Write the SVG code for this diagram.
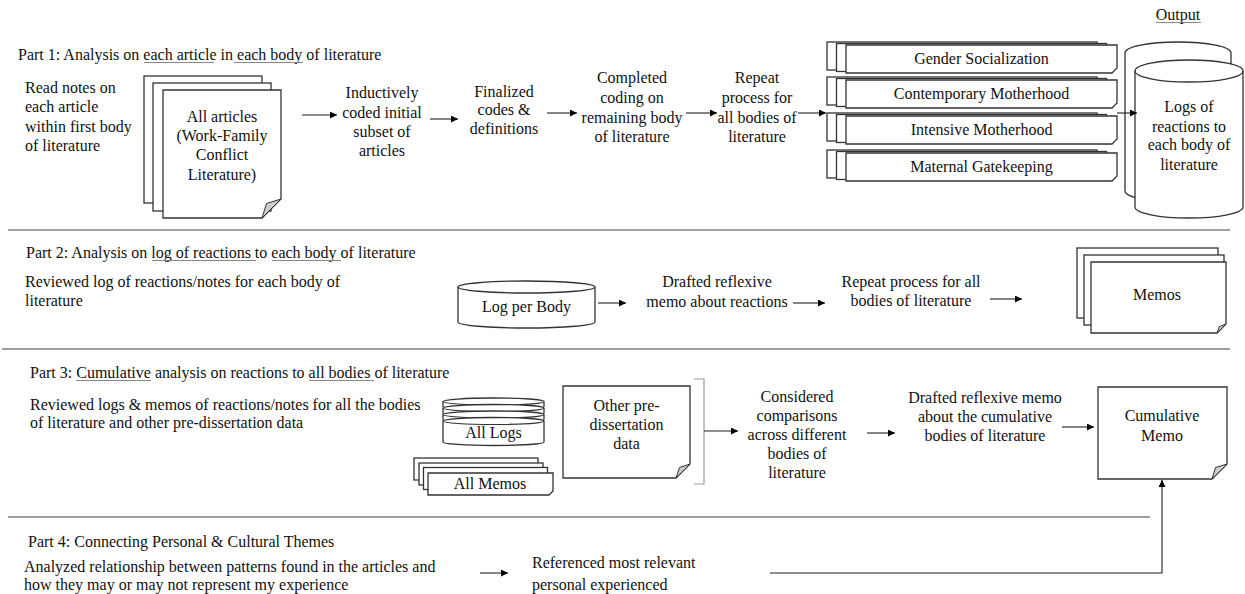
<svg xmlns="http://www.w3.org/2000/svg" width="1245" height="594" viewBox="0 0 1245 594">
<defs>
<style>
text{font-family:"Liberation Serif","Times New Roman",serif;font-size:16px;fill:#111}
.c{text-anchor:middle}
.sep{stroke:#a0a0a0;stroke-width:2;fill:none}
.ul{stroke:#888;stroke-width:1.2;fill:none}
.shape{fill:#fff;stroke:#333;stroke-width:1.3}
.fold{fill:#ccc;stroke:#333;stroke-width:1}
.conn{stroke:#222;stroke-width:1.1;fill:none;marker-end:url(#ah)}
.brk{stroke:#999;stroke-width:1.2;fill:none}
</style>
<marker id="ah" viewBox="0 0 10 10" refX="10" refY="5" markerWidth="9" markerHeight="7" orient="auto" markerUnits="userSpaceOnUse"><path d="M0,0 L10,5 L0,10 z" fill="#000"/></marker>
</defs>
<rect width="1245" height="594" fill="#fff"/>

<g id="separators">
<line class="sep" x1="8" y1="230" x2="1230" y2="230"/>
<line class="sep" x1="2" y1="349" x2="1230" y2="349"/>
<line class="sep" x1="8" y1="517" x2="1150" y2="517"/>
</g>

<g id="part1-title">
<text x="18" y="60">Part 1: Analysis on each article in each body of literature</text>
<line class="ul" x1="144" y1="62.5" x2="214" y2="62.5"/>
<line class="ul" x1="234" y1="62.5" x2="303" y2="62.5"/>
</g>
<g id="output-label">
<text class="c" x="1178" y="20">Output</text>
<line class="ul" x1="1156" y1="22.5" x2="1201" y2="22.5"/>
</g>
<g id="read-notes">
<text x="25" y="93">Read notes on</text>
<text x="25" y="112">each article</text>
<text x="25" y="132">within first body</text>
<text x="25" y="151">of literature</text>
</g>
<g id="all-articles">
<rect class="shape" x="144" y="76" width="118" height="127"/>
<rect class="shape" x="153" y="83" width="118" height="128"/>
<path class="shape" d="M163,90 H281 V199 L262,218 H163 Z"/>
<path class="fold" d="M281,199 L262,218 L266.5,203.5 Z"/>
<text class="c" x="222" y="122">All articles</text>
<text class="c" x="222" y="141">(Work-Family</text>
<text class="c" x="222" y="160">Conflict</text>
<text class="c" x="222" y="180">Literature)</text>
</g>
<g id="inductively">
<text class="c" x="382" y="98">Inductively</text>
<text class="c" x="382" y="118">coded initial</text>
<text class="c" x="382" y="137">subset of</text>
<text class="c" x="382" y="156">articles</text>
</g>
<g id="finalized">
<text class="c" x="504" y="97">Finalized</text>
<text class="c" x="504" y="115">codes &amp;</text>
<text class="c" x="504" y="134">definitions</text>
</g>
<g id="completed">
<text class="c" x="632" y="83">Completed</text>
<text class="c" x="632" y="103">coding on</text>
<text class="c" x="632" y="123">remaining body</text>
<text class="c" x="632" y="142">of literature</text>
</g>
<g id="repeat1">
<text class="c" x="757" y="83">Repeat</text>
<text class="c" x="757" y="103">process for</text>
<text class="c" x="757" y="123">all bodies of</text>
<text class="c" x="757" y="142">literature</text>
</g>
<g id="gender-socialization">
<rect class="shape" x="827" y="42" width="270" height="28"/>
<rect class="shape" x="836.5" y="43.5" width="270" height="28"/>
<path class="shape" d="M846,45 H1117 V68 L1112,73 H846 Z"/>
<text class="c" x="981.5" y="64">Gender Socialization</text>
</g>
<g id="contemporary-motherhood">
<rect class="shape" x="827" y="77" width="270" height="28"/>
<rect class="shape" x="836.5" y="78.5" width="270" height="28"/>
<path class="shape" d="M846,80 H1117 V103 L1112,108 H846 Z"/>
<text class="c" x="981.5" y="99">Contemporary Motherhood</text>
</g>
<g id="intensive-motherhood">
<rect class="shape" x="827" y="113" width="270" height="28"/>
<rect class="shape" x="836.5" y="114.5" width="270" height="28"/>
<path class="shape" d="M846,116 H1117 V139 L1112,144 H846 Z"/>
<text class="c" x="981.5" y="135">Intensive Motherhood</text>
</g>
<g id="maternal-gatekeeping">
<rect class="shape" x="827" y="150" width="270" height="28"/>
<rect class="shape" x="836.5" y="151.5" width="270" height="28"/>
<path class="shape" d="M846,153 H1117 V176 L1112,181 H846 Z"/>
<text class="c" x="981.5" y="172">Maternal Gatekeeping</text>
</g>
<g id="logs-of-reactions">
<path class="shape" d="M1125,53 A53,11 0 0 1 1231,53 V191 A53,11 0 0 1 1125,191 Z"/>
<path class="shape" d="M1135,71 A54,11 0 0 1 1243,71 V207 A54,11 0 0 1 1135,207 Z"/>
<path fill="none" stroke="#333" stroke-width="1.3" d="M1135,71 A54,11 0 0 0 1243,71"/>
<text class="c" x="1189" y="112">Logs of</text>
<text class="c" x="1189" y="132">reactions to</text>
<text class="c" x="1189" y="150">each body of</text>
<text class="c" x="1189" y="170">literature</text>
</g>

<g id="part2-title">
<text x="26" y="258">Part 2: Analysis on log of reactions to each body of literature</text>
<line class="ul" x1="152" y1="260.5" x2="256" y2="260.5"/>
<line class="ul" x1="272" y1="260.5" x2="341" y2="260.5"/>
</g>
<g id="reviewed-log">
<text x="25" y="287">Reviewed log of reactions/notes for each body of</text>
<text x="25" y="306">literature</text>
</g>
<g id="log-per-body">
<path class="shape" d="M458,287 A68.5,6 0 0 1 595,287 V322 A68.5,6 0 0 1 458,322 Z"/>
<path fill="none" stroke="#333" stroke-width="1.3" d="M458,287 A68.5,6 0 0 0 595,287"/>
<text class="c" x="526.5" y="312">Log per Body</text>
</g>
<g id="drafted-memo">
<text class="c" x="717" y="287">Drafted reflexive</text>
<text class="c" x="717" y="307">memo about reactions</text>
</g>
<g id="repeat2">
<text class="c" x="911" y="287">Repeat process for all</text>
<text class="c" x="911" y="306">bodies of literature</text>
</g>
<g id="memos">
<rect class="shape" x="1077" y="248" width="141" height="70"/>
<rect class="shape" x="1084" y="255" width="140" height="70"/>
<path class="shape" d="M1091,262 H1226 V324 L1217,333 H1091 Z"/>
<path class="fold" d="M1226,324 L1217,333 L1219.5,326.5 Z"/>
<text class="c" x="1157" y="300">Memos</text>
</g>

<g id="part3-title">
<text x="30" y="378">Part 3: Cumulative analysis on reactions to all bodies of literature</text>
<line class="ul" x1="76" y1="380.5" x2="151" y2="380.5"/>
<line class="ul" x1="309" y1="380.5" x2="374" y2="380.5"/>
</g>
<g id="reviewed-logs-memos">
<text x="30" y="410">Reviewed logs &amp; memos of reactions/notes for all the bodies</text>
<text x="30" y="428">of literature and other pre-dissertation data</text>
</g>
<g id="all-logs">
<path class="shape" d="M443,401.5 A50.5,3.5 0 0 1 544,401.5 V406.5 A50.5,3.5 0 0 1 443,406.5 Z"/>
<path fill="none" stroke="#333" stroke-width="1.1" d="M443,401.5 A50.5,3.5 0 0 0 544,401.5"/>
<path class="shape" d="M443,408 A50.5,3.5 0 0 1 544,408 V413 A50.5,3.5 0 0 1 443,413 Z"/>
<path fill="none" stroke="#333" stroke-width="1.1" d="M443,408 A50.5,3.5 0 0 0 544,408"/>
<path class="shape" d="M443,414.5 A50.5,3.5 0 0 1 544,414.5 V419.5 A50.5,3.5 0 0 1 443,419.5 Z"/>
<path fill="none" stroke="#333" stroke-width="1.1" d="M443,414.5 A50.5,3.5 0 0 0 544,414.5"/>
<path class="shape" d="M443,421 A50.5,3.5 0 0 1 544,421 V442 A50.5,3.5 0 0 1 443,442 Z"/>
<path fill="none" stroke="#333" stroke-width="1.1" d="M443,421 A50.5,3.5 0 0 0 544,421"/>
<text class="c" x="493.5" y="438">All Logs</text>
</g>
<g id="all-memos">
<rect class="shape" x="414" y="458" width="124" height="22"/>
<rect class="shape" x="419" y="463" width="124" height="22"/>
<rect class="shape" x="423.5" y="467.5" width="124" height="22"/>
<path class="shape" d="M428,473 H553 V491 L549,495 H428 Z"/>
<text class="c" x="490" y="489">All Memos</text>
</g>
<g id="other-data">
<path class="shape" d="M563,386 H690 V464 L676,478 H563 Z"/>
<path class="fold" d="M690,464 L676,478 L679.5,467.5 Z"/>
<text class="c" x="626.5" y="411">Other pre-</text>
<text class="c" x="626.5" y="430">dissertation</text>
<text class="c" x="626.5" y="449">data</text>
</g>
<g id="considered">
<text class="c" x="797" y="402">Considered</text>
<text class="c" x="797" y="421">comparisons</text>
<text class="c" x="797" y="440">across different</text>
<text class="c" x="797" y="459">bodies of</text>
<text class="c" x="797" y="478">literature</text>
</g>
<g id="drafted-cumulative">
<text class="c" x="985" y="403">Drafted reflexive memo</text>
<text class="c" x="985" y="422">about the cumulative</text>
<text class="c" x="985" y="441">bodies of literature</text>
</g>
<g id="cumulative-memo">
<path class="shape" d="M1098,387 H1227 V464 L1212,479 H1098 Z"/>
<path class="fold" d="M1227,464 L1212,479 L1215.5,467.5 Z"/>
<text class="c" x="1162" y="421">Cumulative</text>
<text class="c" x="1162" y="441">Memo</text>
</g>

<g id="part4-title">
<text x="28" y="547">Part 4: Connecting Personal &amp; Cultural Themes</text>
</g>
<g id="analyzed">
<text x="24" y="572">Analyzed relationship between patterns found in the articles and</text>
<text x="24" y="590">how they may or may not represent my experience</text>
</g>
<g id="referenced">
<text x="532" y="568">Referenced most relevant</text>
<text x="532" y="590">personal experienced</text>
</g>

<g id="connectors">
<line class="conn" x1="302" y1="115" x2="337" y2="115"/>
<line class="conn" x1="430" y1="119" x2="458" y2="119"/>
<line class="conn" x1="547" y1="113" x2="577" y2="113"/>
<line class="conn" x1="686" y1="113" x2="717" y2="113"/>
<line class="conn" x1="798" y1="113" x2="826" y2="113"/>
<line class="conn" x1="1117" y1="113" x2="1137" y2="113"/>
<line class="conn" x1="598" y1="303" x2="626" y2="303"/>
<line class="conn" x1="793" y1="303" x2="825" y2="303"/>
<line class="conn" x1="990" y1="299" x2="1022" y2="299"/>
<path class="brk" d="M694,379 H704 V484 H694"/>
<line class="conn" x1="704" y1="431" x2="738" y2="431"/>
<line class="conn" x1="867" y1="433" x2="895" y2="433"/>
<line class="conn" x1="1062" y1="427" x2="1094" y2="427"/>
<line class="conn" x1="480" y1="573" x2="508" y2="573"/>
<path class="conn" stroke="#666" d="M770,573 H1162 V480"/>
</g>
</svg>
